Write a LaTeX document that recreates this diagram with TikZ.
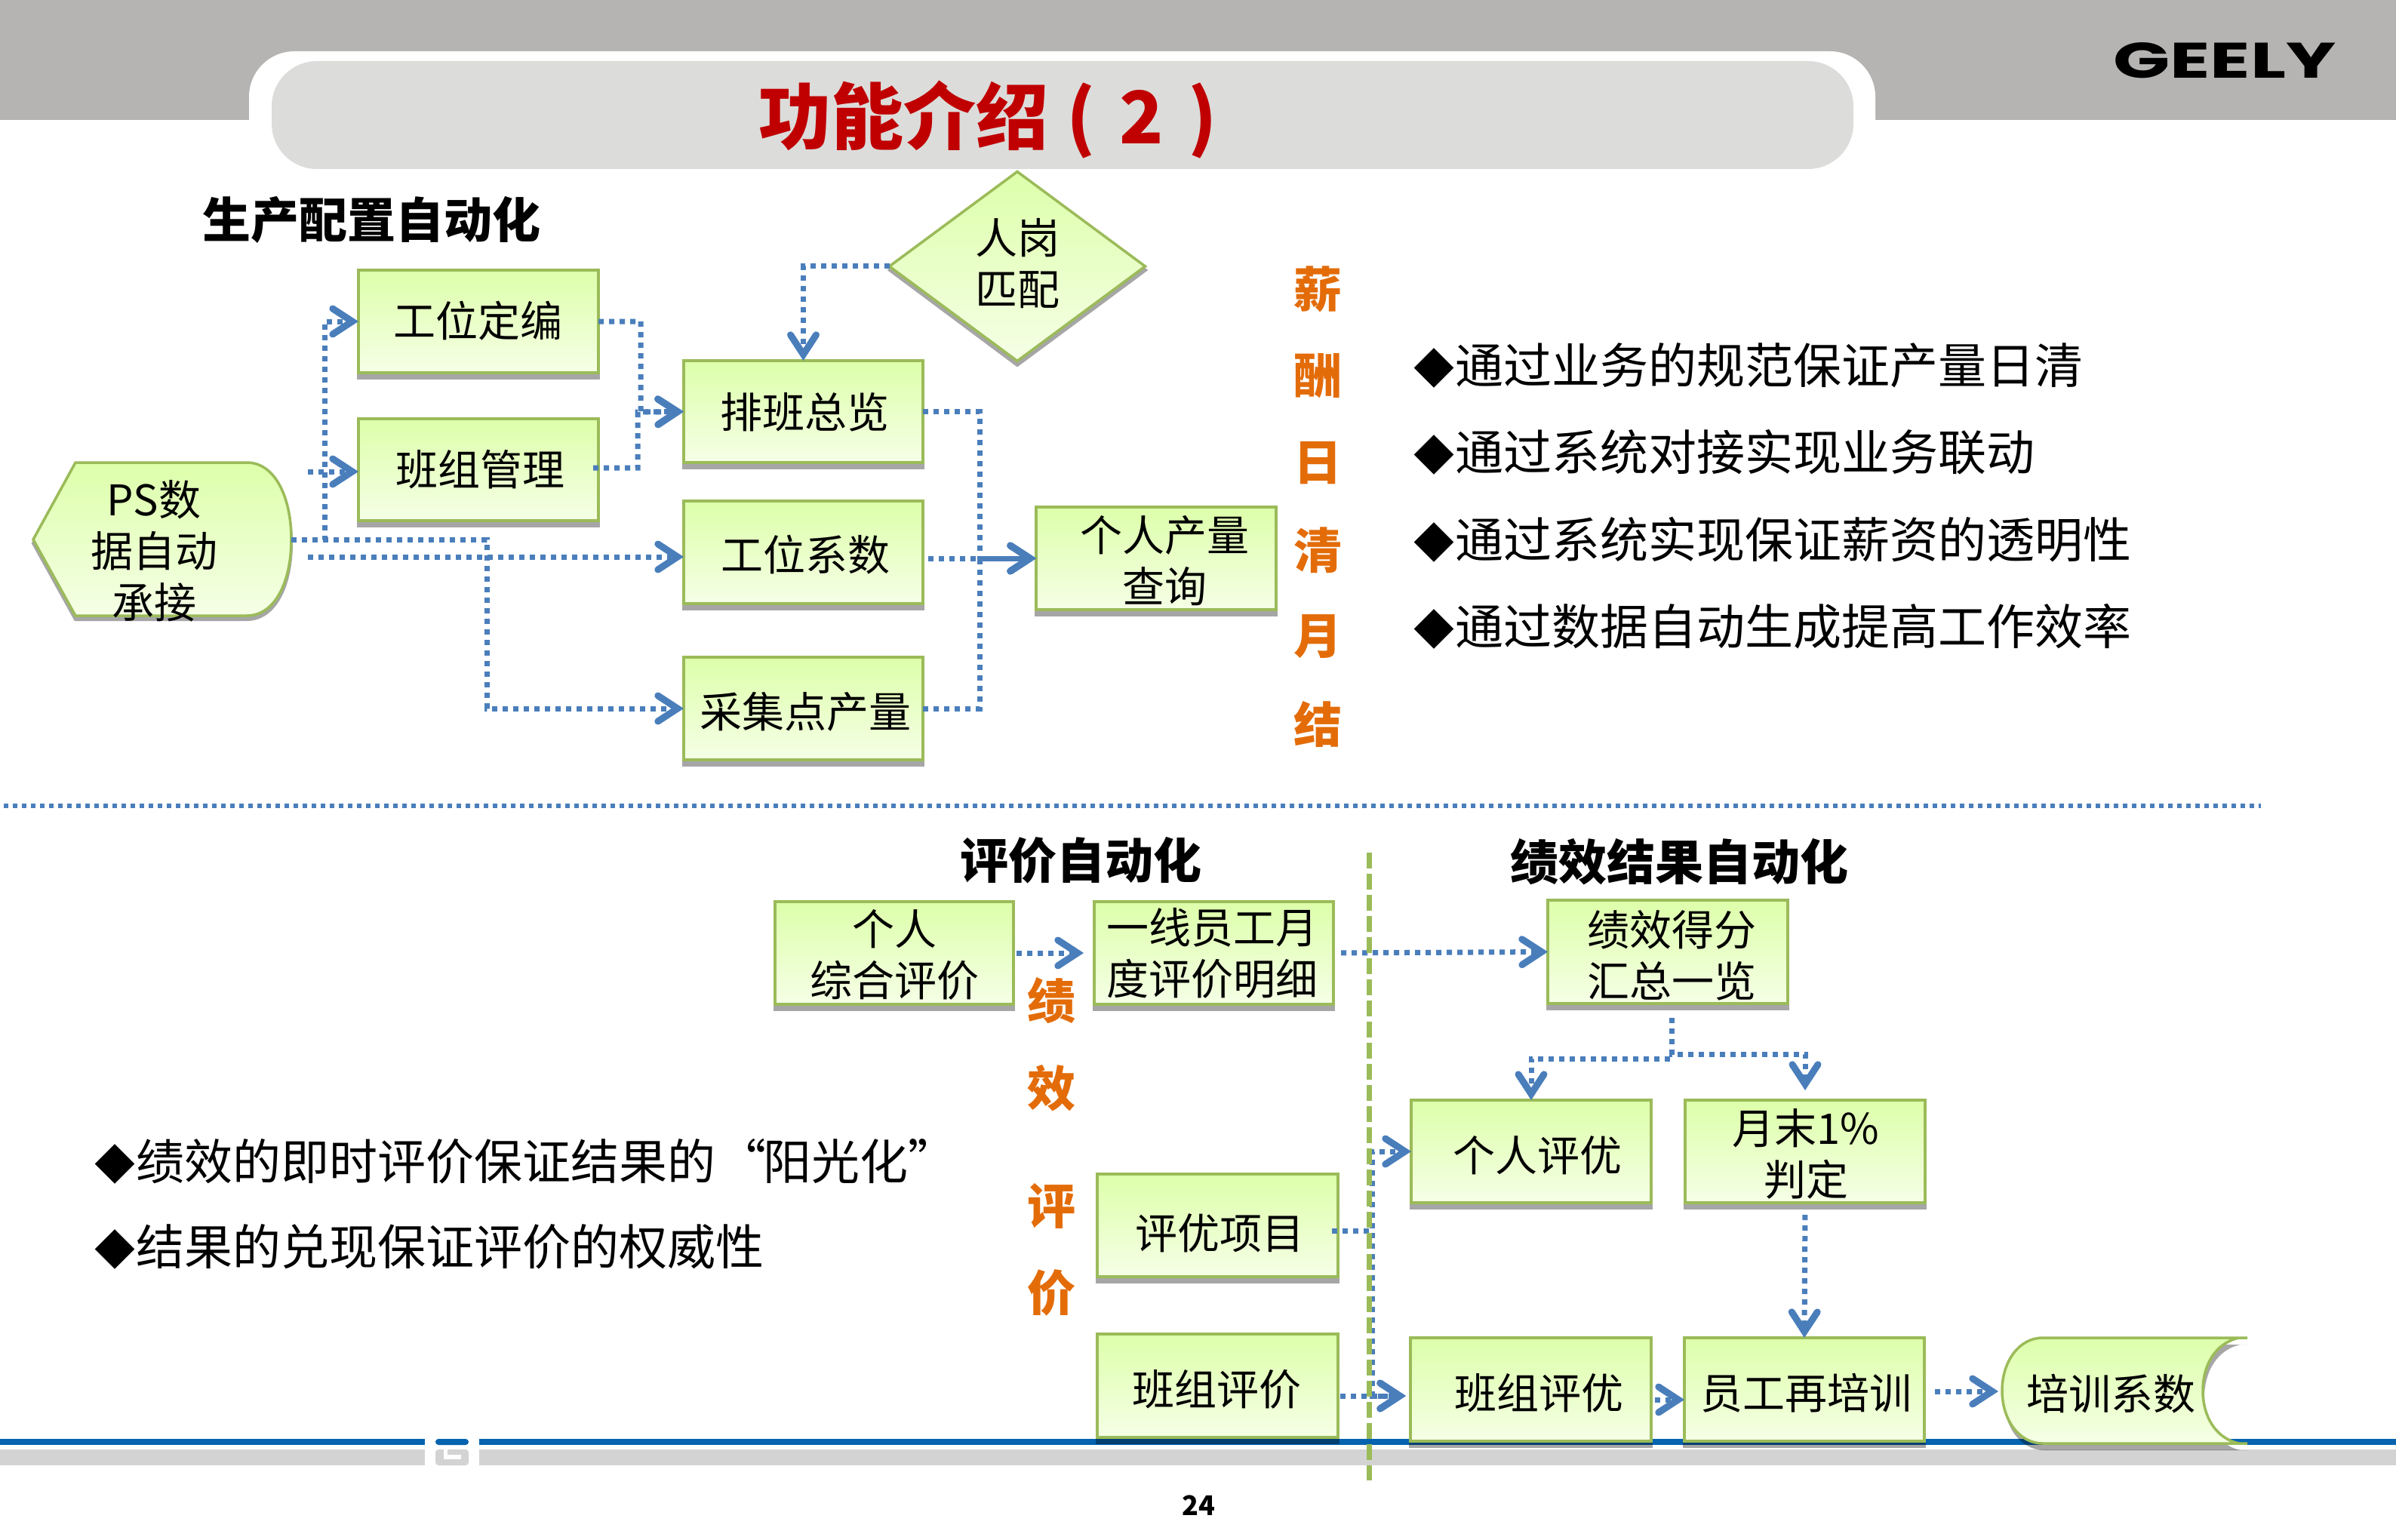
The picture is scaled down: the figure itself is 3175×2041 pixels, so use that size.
\documentclass[tikz,border=0pt]{standalone}
\usepackage{fontspec}
\usetikzlibrary{arrows.meta,shapes.geometric}
\setmainfont{Noto Sans CJK SC}
\newfontfamily\logofont{Poppins}
\definecolor{bandgray}{HTML}{B5B4B2}
\definecolor{tabgray}{HTML}{DCDCDA}
\definecolor{titlered}{HTML}{C00000}
\definecolor{boxtop}{HTML}{DDFFAA}
\definecolor{boxbot}{HTML}{F5FFE6}
\definecolor{boxline}{HTML}{9BBB59}
\definecolor{flowblue}{HTML}{4A7EBB}
\definecolor{sideorange}{HTML}{E36C09}
\definecolor{bandblue}{HTML}{0563B0}
\definecolor{bandlight}{HTML}{D3D3D3}
\definecolor{shadowgray}{HTML}{A6A6A6}
\tikzset{
  boxn/.style={draw=boxline,line width=3.5pt,top color=boxtop,bottom color=boxbot,inner sep=0pt,outer sep=0pt},
  shapefill/.style={draw=boxline,line width=3.5pt,top color=boxtop,bottom color=boxbot},
  shadowfill/.style={fill=black,fill opacity=0.35},
  solidshadow/.style={fill=shadowgray,draw=shadowgray,line width=4pt},
  txt/.style={inner sep=0pt,outer sep=0pt,align=center,font=\fontsize{56}{68}\selectfont},
  head/.style={inner sep=0pt,font=\fontsize{64}{70}\selectfont\bfseries},
  side/.style={inner sep=0pt,text=sideorange,font=\fontsize{64}{70}\selectfont\bfseries},
  bullet/.style={inner sep=0pt,anchor=west,font=\fontsize{64}{70}\selectfont},
  flow/.style={draw=flowblue,line width=7pt,dash pattern=on 7pt off 7pt,
     -{Straight Barb[length=26pt,width=34pt,line width=9pt,line cap=round,line join=miter]}}
}
\newcommand\dm{\makebox[55pt][l]{\fontsize{54}{60}\selectfont ◆}}
% name x1 y1 x2 y2 textx texty text
\newcommand\bx[8]{%
  \pgfmathsetmacro\bw{#4-#2}\pgfmathsetmacro\bh{#5-#3}%
  \pgfmathsetmacro\bmx{(#2+#4)/2}\pgfmathsetmacro\bmy{(#3+#5)/2}%
  \fill[shadowfill] (#2-2,#5) rectangle (#4+2,#5+9);
  \node[boxn,minimum width=\bw pt,minimum height=\bh pt] (#1) at (\bmx,\bmy) {};
  \node[txt] (#1-t) at (#6,#7) {#8};
}
\newcommand\pspath{(44,715) -- (100,613) -- (327,613) .. controls (365,613) and (386,660) .. (386,715) .. controls (386,770) and (365,816) .. (327,816) -- (100,816) -- cycle}
\newcommand\storedpath{(2978,1773) -- (2707,1773) .. controls (2675,1773) and (2653,1805) .. (2653,1843) .. controls (2653,1881) and (2675,1913) .. (2707,1913) -- (2978,1913) -- (2967,1913) .. controls (2935,1906) and (2919,1876) .. (2919,1843) .. controls (2919,1810) and (2935,1780) .. (2967,1773) -- cycle}
\begin{document}
\begin{tikzpicture}[x=1pt,y=-1pt]
\useasboundingbox (0,0) rectangle (3175,2041);
\fill[white] (0,0) rectangle (3175,2041);
% header
\fill[bandgray] (0,0) rectangle (3175,159);
\fill[white] (330,159) -- (330,128) .. controls (330,95) and (357,68) .. (390,68) -- (2425,68) .. controls (2458,68) and (2485,95) .. (2485,128) -- (2485,159) -- cycle;
\fill[tabgray,rounded corners=60pt] (360,81) rectangle (2456,224);
\node[inner sep=0pt,anchor=west,text=titlered,font=\fontsize{96}{100}\selectfont\bfseries] (title) at (1005,158) {功能介绍\hspace{24pt}(\hspace{32pt}2\hspace{32pt})};
\node[inner sep=0pt] (logo) at (2948,80.5) {\resizebox{295pt}{47pt}{\logofont\bfseries GEELY}};
% bottom band
\fill[bandblue] (0,1907) rectangle (563,1915);
\fill[bandblue] (635,1907) rectangle (3175,1915);
\fill[bandlight] (0,1921) rectangle (563,1942);
\fill[bandlight] (635,1921) rectangle (3175,1942);
\fill[bandblue,rounded corners=4pt] (577,1915) -- (577,1907) -- (621,1907) -- (621,1915) -- cycle;
\fill[bandlight,rounded corners=4pt] (577,1921) -- (577,1942) -- (621,1942) -- (621,1921) -- cycle;
\fill[white] (588,1921) rectangle (593,1934);
\fill[white] (588,1928) rectangle (611,1934);
\node[inner sep=0pt,font=\fontsize{36}{40}\selectfont\bfseries] (page) at (1588,1995) {24};
% separators
\draw[flowblue,line width=6pt,dash pattern=on 6pt off 6pt] (5,1068) -- (2996,1068);
% headings
\node[head] (h1) at (492,291) {生产配置自动化};
\node[head] (h2) at (1432,1140) {评价自动化};
\node[head] (h3) at (2225,1142) {绩效结果自动化};
% PS shape
\path[solidshadow,yshift=-5pt] \pspath;
\path[shapefill] \pspath;
\node[txt] (pst) at (204,730) {PS数\\据自动\\承接};
\coordinate (ps) at (386,715);
% diamond
\path[solidshadow] (1179,358) -- (1348,233) -- (1518,358) -- (1348,484) -- cycle;
\node[diamond,boxn,aspect=1.35,minimum width=339pt,minimum height=251pt] (gw) at (1348,353) {};
\node[txt] (gw-t) at (1348,349) {人岗\\匹配};
% upper boxes
\bx{gd}{475}{358}{793}{494}{633}{425}{工位定编}
\bx{bz}{475}{555}{793}{690}{636}{622}{班组管理}
\bx{pb}{906}{478}{1223}{613}{1066}{546}{排班总览}
\bx{gx}{906}{664}{1223}{800}{1067}{735}{工位系数}
\bx{cj}{906}{871}{1223}{1007}{1067}{943}{采集点产量}
\bx{gr}{1373}{672}{1691}{808}{1543}{743}{个人产量\\查询}
% lower boxes
\bx{zh}{1027}{1195}{1343}{1331}{1185}{1265}{个人\\综合评价}
\bx{yx}{1450}{1195}{1767}{1331}{1606}{1263}{一线员工月\\度评价明细}
\bx{jx}{2051}{1193}{2369}{1330}{2215}{1266}{绩效得分\\汇总一览}
\bx{gp}{1870}{1458}{2188}{1594}{2037}{1531}{个人评优}
\bx{yd}{2233}{1458}{2551}{1594}{2393}{1529}{月末1\%\\判定}
\bx{py}{1454}{1556}{1773}{1692}{1616}{1634}{评优项目}
\bx{bj}{1454}{1768}{1773}{1905}{1612}{1841}{班组评价}
\bx{bp}{1869}{1773}{2188}{1910}{2039}{1846}{班组评优}
\bx{yg}{2232}{1773}{2550}{1910}{2393}{1846}{员工再培训}
% stored data shape
\begin{scope}
\clip (2600,1750) rectangle (2978,1950);
\path[shadowfill,yshift=-9pt,xshift=2pt] \storedpath;
\end{scope}
\path[shapefill] \storedpath;
\node[txt] (px) at (2797,1847) {培训系数};
\coordinate (pxw) at (2654,1844);
% side texts
\node[side] (s1) at (1746,383) {薪};
\node[side] (s2) at (1746,498) {酬};
\node[side] (s3) at (1746,614) {日};
\node[side] (s4) at (1746,729) {清};
\node[side] (s5) at (1746,844) {月};
\node[side] (s6) at (1746,960) {结};
\node[side] (s7) at (1393,1326) {绩};
\node[side] (s8) at (1393,1442) {效};
\node[side] (s9) at (1393,1598) {评};
\node[side] (s10) at (1393,1713) {价};
% bullets
\node[bullet] (b1) at (1873,484) {\dm 通过业务的规范保证产量日清};
\node[bullet] (b2) at (1873,599) {\dm 通过系统对接实现业务联动};
\node[bullet] (b3) at (1873,715) {\dm 通过系统实现保证薪资的透明性};
\node[bullet] (b4) at (1873,830) {\dm 通过数据自动生成提高工作效率};
\node[bullet] (b5) at (125,1539) {\dm 绩效的即时评价保证结果的\hspace{3pt}“\hspace{-4pt}阳光化”};
\node[bullet] (b6) at (125,1652) {\dm 结果的兑现保证评价的权威性};
% connector junctions
\coordinate (va) at (430,426);
\coordinate (vb) at (645,939);
\coordinate (bs) at (408,625);
\coordinate (cs) at (408,738);
\coordinate (vd) at (849,546);
\coordinate (es) at (786,620);
\coordinate (ve) at (845,546);
\coordinate (vg) at (1298,740);
\coordinate (hs) at (1230,740);
\coordinate (ls) at (2215,1349);
\coordinate (lm) at (2215,1403);
\coordinate (ln) at (2392,1397);
\coordinate (ns) at (1765,1631);
\coordinate (nu) at (1818,1526);
\coordinate (nd) at (1818,1850);
\coordinate (os) at (1776,1850);
\coordinate (ps2) at (2193,1855);
\coordinate (qs) at (2564,1844);
% connectors
\draw[flow] (ps) -| (va) -- (gd.west);
\draw[flow] (ps) -| (vb) -- (cj.west);
\draw[flow] (bs) -- (bz.west |- bs);
\draw[flow] (cs) -- (gx.west |- cs);
\draw[flow] (gd.east) -| (vd) -- (pb.west);
\draw[flow] (es) -| (ve) -- (pb.west);
\draw[flow] (gw.west) -| (pb.north);
\draw[flow] (pb.east) -| (vg) -- (gr.west);
\draw[flow] (hs) -- (gr.west);
\draw[flow] (cj.east) -| (vg) -- (gr.west);
\draw[flow,shorten <=4pt,shorten >=14pt] (zh.east) -- (yx.west);
\draw[flow,shorten <=10pt] (yx.east) -- (jx.west);
\draw[flow] (ls) |- (ln) -- ([yshift=13pt]yd.north);
\draw[flow] (ls) -- (lm) -| (gp.north);
\draw[flow,shorten <=16pt] (yd.south) -- (yg.north);
\draw[flow] (ns) -| (nu) -- (gp.west);
\draw[flow,shorten >=6pt] (ns) -| (nd) -- (bp.west |- nd);
\draw[flow,shorten >=6pt] (os) -- (bp.west |- os);
\draw[flow] (ps2) -- (yg.west |- ps2);
\draw[flow,shorten >=6pt] (qs) -- (pxw);
% green divider
\draw[boxline,line width=7pt,dash pattern=on 21pt off 7pt] (1814,1130) -- (1814,1962);
\end{tikzpicture}
\end{document}
